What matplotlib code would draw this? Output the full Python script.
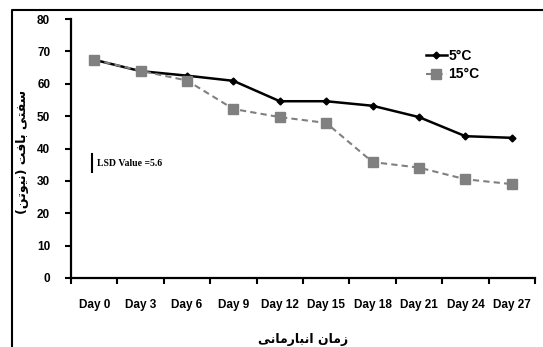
import matplotlib
matplotlib.use("Agg")
import matplotlib.pyplot as plt
from matplotlib.lines import Line2D

categories = ["Day 0", "Day 3", "Day 6", "Day 9", "Day 12", "Day 15", "Day 18", "Day 21", "Day 24", "Day 27"]
series_5c = [67.4, 63.9, 62.5, 60.9, 54.6, 54.6, 53.2, 49.7, 43.8, 43.3]
series_15c = [67.4, 64.0, 61.0, 52.2, 49.7, 47.9, 35.8, 34.1, 30.5, 29.0]
y_ticks = [0, 10, 20, 30, 40, 50, 60, 70, 80]
lsd_value = 5.6

# Persian labels in visual order with Arabic presentation forms
ylabel_fa = "(" + "\uFEE6\uFE97\uFEEE\uFEF4\uFEE7" + ")" + " " + "\uFE96\uFED3\uFE8E\uFE91" + " " + "\uFEF0\uFE98\uFED4\uFEB3"
xlabel_fa = "\uFEF0\uFEE7\uFE8E\uFEE3\uFEAD\uFE8E\uFE92\uFEE7\uFE8D" + " " + "\uFEE5\uFE8E\uFEE3\uFEAF"

W, H = 543, 347
fig = plt.figure(figsize=(W / 100, H / 100), dpi=100)
ax = fig.add_axes([71 / W, 1 - 278 / H, (535 - 71) / W, (278 - 19) / H])

x = list(range(len(categories)))
ax.plot(x, series_5c, color="black", lw=1.8, marker="D", ms=3.5, label="5°C", zorder=3)
ax.plot(x, series_15c, color="#808080", lw=1.5, ls=(0, (3, 2)), marker="s", ms=6.5,
        markerfacecolor="#808080", markeredgecolor="#808080", label="15°C", zorder=4)

ax.set_xlim(-0.5, len(categories) - 0.5)
ax.set_ylim(0, 80)
ax.set_yticks(y_ticks)
ax.set_xticks(x)
ax.set_xticklabels(categories)
ax.set_xticks([i - 0.5 for i in range(len(categories) + 1)], minor=True)
ax.tick_params(axis="x", which="major", length=0, pad=15)
ax.tick_params(axis="x", which="minor", length=4, width=1.5, direction="out")
ax.tick_params(axis="y", length=4, width=1.5, direction="out", pad=11)
for lab in ax.get_xticklabels() + ax.get_yticklabels():
    lab.set_fontfamily("Liberation Sans")
    lab.set_fontweight("bold")
    lab.set_fontsize(8.5)

for s in ["top", "right"]:
    ax.spines[s].set_visible(False)
for s in ["left", "bottom"]:
    ax.spines[s].set_linewidth(1.6)

# LSD annotation
ax.plot([-0.047, -0.047], [32.8, 32.8 + lsd_value], color="black", lw=1.5, clip_on=False)
ax.text(0.06, 35.4, "LSD Value =%.1f" % lsd_value, fontfamily="Liberation Serif", fontweight="bold",
        fontsize=7, va="center", ha="left")

leg = ax.legend(loc="upper left", bbox_to_anchor=(0.75, 0.91), frameon=False,
                prop={"family": "Liberation Sans", "weight": "bold", "size": 10},
                handlelength=1.5, handletextpad=0.1, labelspacing=0.3, borderpad=0)

fig.text(23 / W, 1 - 152 / H, ylabel_fa, rotation=90, ha="center", va="center",
         fontfamily="DejaVu Sans", fontweight="bold", fontsize=9)
fig.text((71 + 535) / 2 / W, 1 - 339 / H, xlabel_fa, ha="center", va="center",
         fontfamily="DejaVu Sans", fontweight="bold", fontsize=9)

# outer frame
fig.add_artist(Line2D([12 / W, 12 / W, 1.0], [0, 1 - 10 / H, 1 - 10 / H],
                      transform=fig.transFigure, color="black", lw=1.5))

fig.savefig("out.png", dpi=100)
